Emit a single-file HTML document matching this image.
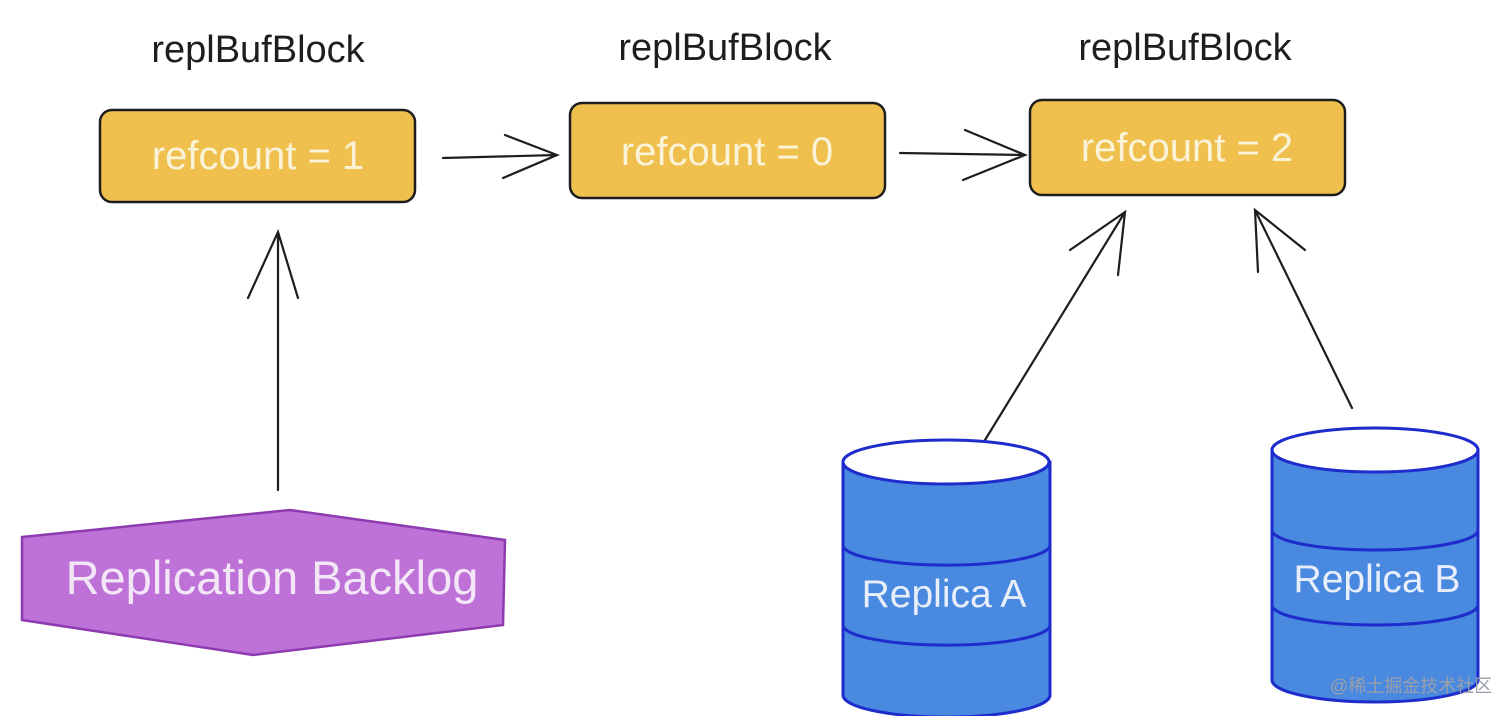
<!DOCTYPE html>
<html><head><meta charset="utf-8"><style>
html,body{margin:0;padding:0;background:#fff;}
svg{display:block;}
text{font-family:"Liberation Sans","DejaVu Sans",sans-serif;}
</style></head><body>
<svg width="1512" height="716" viewBox="0 0 1512 716" xmlns="http://www.w3.org/2000/svg">
<g font-size="38" fill="#1e1e1e" text-anchor="middle">
<text x="258" y="62">replBufBlock</text>
<text x="725" y="60">replBufBlock</text>
<text x="1185" y="60">replBufBlock</text>
</g>
<g fill="#f0c04f" stroke="#1e1e1e" stroke-width="2.5">
<rect x="100" y="110" width="315" height="92" rx="12"/>
<rect x="570" y="103" width="315" height="95" rx="12"/>
<rect x="1030" y="100" width="315" height="95" rx="12"/>
</g>
<g font-size="40" fill="#faf3d8" text-anchor="middle">
<text x="258" y="169">refcount = 1</text>
<text x="727" y="165">refcount = 0</text>
<text x="1187" y="161">refcount = 2</text>
</g>
<g stroke="#1e1e1e" stroke-width="2.2" fill="none" stroke-linecap="round">
<path d="M443 158 L557 155 M505 135 L557 155 L503 178"/>
<path d="M900 153 L1025 155 M965 130 L1025 155 L963 180"/>
<path d="M278 490 L278 232 M248 298 L278 232 L298 298"/>
<path d="M985 440 L1125 212 M1070 250 L1125 212 L1118 275"/>
<path d="M1352 408 L1255 210 M1258 272 L1255 210 L1305 250"/>
</g>
<polygon points="22,537 290,510 505,540 503,625 253,655 22,620" fill="#be72d8" stroke="#8e3bb0" stroke-width="2.5"/>
<text x="272" y="594" font-size="47" fill="#f3e6f7" text-anchor="middle">Replication Backlog</text>
<g stroke="#1e2ccc" stroke-width="3">
<path d="M843 462 L843 695 A103 22 0 0 0 1050 695 L1050 462 Z" fill="#4a89e0"/>
<ellipse cx="946" cy="462" rx="103" ry="22" fill="#fff"/>
<path d="M843 545 A103 20 0 0 0 1050 545 M843 625 A103 20 0 0 0 1050 625" fill="none"/>
<path d="M1272 450 L1272 680 A103 22 0 0 0 1478 680 L1478 450 Z" fill="#4a89e0"/>
<ellipse cx="1375" cy="450" rx="103" ry="22" fill="#fff"/>
<path d="M1272 530 A103 20 0 0 0 1478 530 M1272 605 A103 20 0 0 0 1478 605" fill="none"/>
</g>
<text x="944" y="607" font-size="39" fill="#e8eefa" text-anchor="middle">Replica A</text>
<text x="1377" y="592" font-size="39" fill="#e8eefa" text-anchor="middle">Replica B</text>
<text x="1330" y="692" font-size="18" fill="#9aa0aa" style='font-family:"Liberation Sans","Noto Sans CJK SC",sans-serif'>@稀土掘金技术社区</text>
</svg>
</body></html>
